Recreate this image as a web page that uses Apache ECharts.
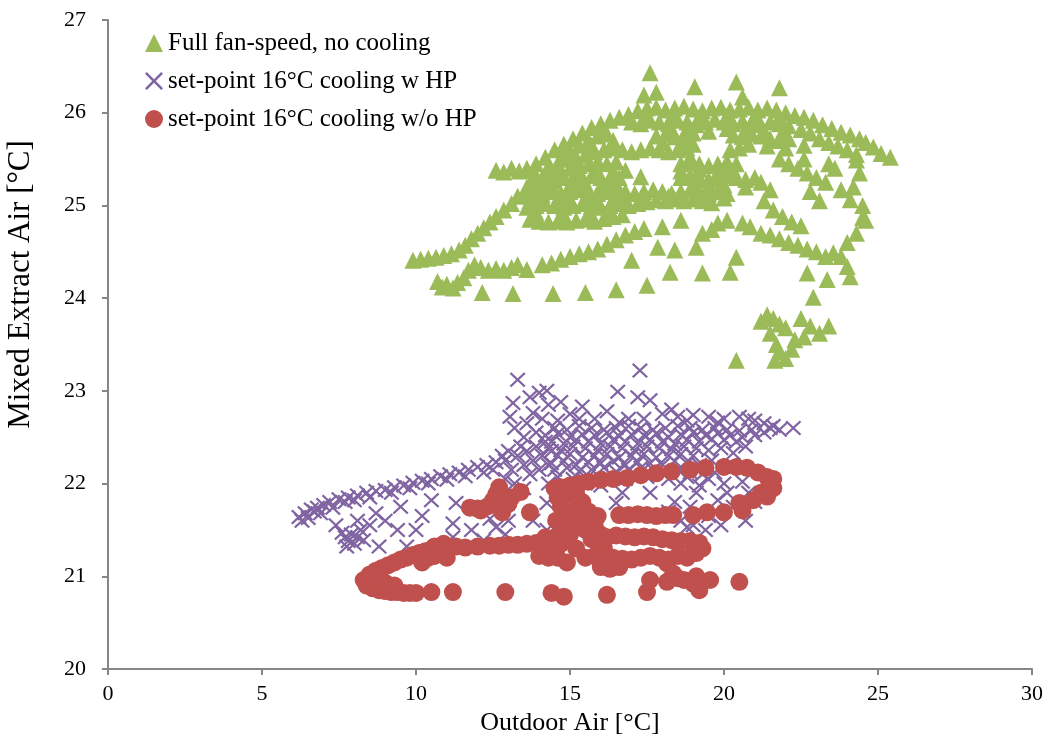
<!DOCTYPE html>
<html>
<head>
<meta charset="utf-8">
<script src="https://cdn.jsdelivr.net/npm/echarts@6/dist/echarts.min.js"></script>
<style>
  html, body { margin: 0; padding: 0; background: #fff; }
  #chart { width: 1050px; height: 734px; }
</style>
</head>
<body>
<div id="chart"></div>
<script>
// series names
const seriesNames = [
  'Full fan-speed, no cooling',
  'set-point 16°C cooling w HP',
  'set-point 16°C cooling w/o HP'
]

// [outdoor air, mixed extract air]
const fullFan = [
  [9.9,24.41],[10.15,24.42],[10.4,24.43],[10.65,24.44],[10.9,24.46],[11.15,24.48],[11.4,24.52],[11.6,24.57],
  [11.8,24.64],[12.0,24.7],[12.2,24.76],[12.4,24.82],[12.6,24.88],[12.85,24.95],[13.1,25.02],[13.3,25.1],
  [10.7,24.18],[10.85,24.12],[11.0,24.15],[11.2,24.11],[11.35,24.17],[11.55,24.22],[11.7,24.3],[11.9,24.36],
  [12.1,24.33],[12.35,24.3],[12.6,24.32],[12.85,24.3],[13.1,24.33],[13.3,24.36],[13.6,24.31],[14.1,24.36],
  [14.4,24.38],[14.7,24.42],[15.0,24.45],[15.3,24.48],[15.6,24.5],[15.9,24.53],[16.2,24.58],[16.5,24.63],
  [16.8,24.68],[17.1,24.72],[17.4,24.75],
  [12.15,24.06],[13.15,24.05],[14.45,24.05],[15.5,24.06],[16.5,24.09],[17.5,24.14],[18.25,24.28],[19.3,24.27],
  [17.0,24.41],[17.85,24.55],[18.4,24.52],[19.1,24.55],[20.4,24.44],[20.2,24.28],
  [18.0,24.77],[18.6,24.84],[19.8,24.81],[20.1,24.84],[20.6,24.81],[20.85,24.77],[19.3,24.7],[19.6,24.74],
  [12.6,25.38],[12.85,25.36],[13.1,25.4],[13.35,25.37],[13.6,25.4],[13.9,25.45],[14.2,25.52],[14.5,25.6],
  [14.8,25.66],[15.1,25.72],[15.4,25.78],[15.7,25.84],[16.0,25.88],[16.3,25.92],[16.6,25.95],[16.9,25.98],
  [17.6,26.43],[17.8,26.22],[17.4,26.19],[19.05,26.28],[20.4,26.33],[20.6,26.17],[21.8,26.27],
  [17.2,26.02],[17.5,26.05],[17.8,26.06],[18.1,26.03],[18.4,26.05],[18.7,26.07],[19.0,26.04],[19.3,26.02],
  [19.6,26.05],[19.9,26.06],[20.2,26.03],[20.5,26.04],[20.8,26.06],[21.1,26.03],[21.4,26.05],[21.7,26.03],
  [22.0,26.0],[22.3,25.97],
  [17.5,25.95],[18.3,25.96],[19.2,25.96],[20.1,25.97],[21.0,25.96],[21.8,25.95],
  [22.6,25.95],[22.9,25.92],[23.2,25.87],[23.5,25.83],[23.8,25.79],[24.1,25.76],[24.4,25.72],[24.6,25.68],
  [24.85,25.63],[25.1,25.56],[25.4,25.52],
  [22.5,25.82],[22.8,25.78],[23.1,25.72],[23.4,25.68],[23.7,25.64],[24.0,25.6],[24.3,25.55],
  [24.3,25.49],[24.2,25.2],[23.8,25.17],[24.1,25.06],[24.5,24.87],[24.6,24.84],[24.3,24.7],[24.0,24.6],
  [24.4,25.35],[24.5,25.0],[23.8,24.45],[24.1,24.23],[23.55,24.49],[23.35,24.2],[22.7,24.27],[22.9,24.01],[24.0,24.34],
  [21.2,24.7],[21.5,24.68],[21.8,24.64],[22.1,24.6],[22.4,24.57],[22.7,24.53],[23.0,24.5],[23.3,24.45],
  [21.2,23.75],[21.4,23.82],[21.6,23.78],[21.8,23.72],[22.0,23.68],[21.5,23.62],[22.5,23.78],[22.8,23.7],
  [23.1,23.62],[23.4,23.7],[22.6,23.58],[21.7,23.5],[21.8,23.42],[22.0,23.35],[22.2,23.45],[21.65,23.33],
  [22.3,23.55],[20.4,23.33],
  [21.8,25.5],[22.1,25.45],[22.4,25.4],[22.7,25.35],[23.0,25.3],[23.3,25.25],[21.5,25.17],[21.3,25.05],
  [21.6,24.95],[21.9,24.88],[22.2,24.82],[22.5,24.78],[21.2,25.25],[22.8,25.15],[23.1,25.05],[22.6,25.5],
  [23.4,25.45],[23.6,25.4],
  [17.0,25.9],[17.3,25.88],[17.6,25.92],[17.9,25.9],[18.2,25.88],[18.5,25.92],[18.8,25.9],[19.1,25.87],
  [19.4,25.9],[19.7,25.93],[20.0,25.9],[20.3,25.88],[20.6,25.91],[20.9,25.9],[21.2,25.87],[21.5,25.9],
  [21.8,25.88],[22.1,25.86],
  [16.0,25.82],[18.3,25.82],[18.9,25.84],[19.5,25.8],[20.1,25.83],[20.7,25.82],[21.3,25.8],[21.9,25.79],
  [15.0,25.6],[15.3,25.65],[15.6,25.7],[15.9,25.75],[16.2,25.77],[17.8,25.75],[18.1,25.77],[18.4,25.74],
  [18.7,25.76],[19.0,25.78],[20.3,25.76],[20.6,25.74],[20.9,25.77],[21.2,25.75],[21.5,25.72],[21.8,25.7],[22.1,25.72],
  [14.8,25.55],[18.0,25.68],[18.6,25.67],[19.0,25.66],[20.8,25.66],[21.4,25.64],[22.0,25.62],[22.6,25.65],
  [15.7,25.65],[16.4,25.7],[15.0,25.5],[18.9,25.52],
  [14.6,25.45],[14.9,25.5],[15.2,25.52],[15.5,25.55],[15.8,25.58],[16.1,25.6],[16.4,25.62],[16.7,25.6],
  [17.0,25.58],[17.3,25.6],[17.6,25.62],[17.9,25.6],[18.2,25.58],[18.5,25.6],[18.8,25.62],[20.2,25.6],[20.5,25.62],
  [14.1,25.3],[14.4,25.35],[14.7,25.38],[15.0,25.4],[15.3,25.43],[15.6,25.45],[15.9,25.47],[16.2,25.45],
  [16.5,25.47],[18.6,25.45],[18.9,25.47],[19.2,25.45],[19.5,25.43],[19.8,25.45],[20.1,25.47],[20.4,25.45],
  [13.8,25.3],[16.8,25.38],[18.6,25.37],[19.2,25.39],[19.8,25.36],[20.3,25.38],[20.0,25.4],
  [13.8,25.38],[14.3,25.42],[15.2,25.36],[15.8,25.38],[16.4,25.37],
  [13.6,25.2],[13.9,25.22],[14.2,25.25],[14.5,25.27],[14.8,25.3],[15.1,25.28],[15.4,25.3],[15.7,25.32],
  [16.0,25.3],[16.3,25.28],[16.6,25.3],[18.6,25.3],[18.9,25.32],[19.2,25.3],[19.5,25.28],[19.8,25.3],
  [20.1,25.32],[20.4,25.3],[20.7,25.28],[21.0,25.3],[17.3,25.31],
  [14.0,25.18],[15.0,25.22],[16.0,25.21],[19.0,25.23],[20.0,25.22],[20.7,25.2],
  [14.4,25.22],[15.5,25.24],[16.5,25.23],[19.5,25.22],
  [13.5,25.12],[13.8,25.1],[14.1,25.12],[14.4,25.15],[14.7,25.13],[15.0,25.15],[15.3,25.17],[15.6,25.15],
  [15.9,25.13],[16.2,25.15],[16.5,25.17],[16.8,25.15],[17.1,25.13],[17.4,25.15],[17.7,25.17],[18.0,25.15],
  [18.3,25.13],[18.6,25.15],[18.9,25.17],[19.2,25.15],[19.5,25.13],[19.8,25.15],[20.1,25.13],
  [13.7,25.05],[14.6,25.07],[15.5,25.08],[16.4,25.07],[17.3,25.08],[18.2,25.1],[19.1,25.1],[20.0,25.08],
  [14.1,25.05],[15.0,25.06],[15.9,25.05],[16.8,25.07],
  [13.6,24.98],[13.9,25.0],[14.2,25.02],[14.5,25.0],[14.8,24.98],[15.1,25.0],[15.4,25.02],[15.7,25.0],
  [16.0,24.98],[16.3,25.0],[16.6,25.02],[16.9,25.0],[17.2,25.02],[17.5,25.04],[17.8,25.06],[18.1,25.05],
  [18.4,25.07],[18.7,25.05],[19.0,25.07],[19.3,25.05],[19.6,25.03],
  [13.9,24.92],[14.8,24.9],[15.6,24.92],[16.3,24.94],
  [13.7,24.85],[14.0,24.83],[14.3,24.82],[14.6,24.83],[14.9,24.82],[15.2,24.84],[15.5,24.85],[15.8,24.83],
  [16.1,24.86],[16.4,24.88],[16.7,24.9]
]

const coolingWithHP = [
  [6.2,21.64],[6.4,21.68],[6.6,21.72],[6.8,21.74],[7.0,21.77],[7.2,21.8],[7.5,21.83],[7.8,21.85],
  [8.1,21.87],[8.4,21.9],[8.7,21.92],[9.0,21.93],[9.3,21.96],[9.6,21.98],[9.9,22.01],[10.2,22.03],
  [10.5,22.05],[10.8,22.08],[11.1,22.1],[11.4,22.12],[11.7,22.15],[12.0,22.18],[12.3,22.2],[12.6,22.23],[12.9,22.25],
  [6.3,21.6],[6.5,21.63],[6.7,21.7],[6.9,21.68],[7.3,21.74],[7.7,21.8],[8.0,21.82],[8.5,21.85],
  [9.2,21.9],[9.8,21.95],[10.4,22.0],[11.0,22.04],[11.6,22.08],[12.2,22.12],[12.5,22.15],
  [7.6,21.47],[7.7,21.42],[7.8,21.38],[7.9,21.45],[8.0,21.35],[8.1,21.42],[7.75,21.32],[8.2,21.5],
  [8.3,21.39],[8.7,21.68],[8.8,21.32],[9.4,21.5],[9.7,21.32],[10.0,21.5],[10.5,21.82],[11.2,21.57],
  [11.2,21.42],[12.2,21.39],[12.6,21.53],[12.7,21.75],[11.3,21.79],[8.5,21.55],[9.0,21.6],[9.5,21.75],
  [10.2,21.65],[11.8,21.5],[12.4,21.62],[13.0,21.6],[12.9,21.45],[7.4,21.55],[8.1,21.6],
  [13.3,23.12],[13.7,22.93],[13.15,22.87],[13.05,22.72],[13.8,22.76],[14.0,22.98],[13.5,22.5],[13.2,22.6],
  [13.4,22.4],[13.6,22.65],[13.9,22.55],[14.1,22.7],[14.3,22.85],[13.0,22.35],[13.3,22.3],[13.6,22.35],
  [13.9,22.4],[14.2,22.45],[12.8,22.3],[13.1,22.15],[13.5,22.2],[13.8,22.25],[14.1,22.3],[14.4,22.35],
  [13.7,22.1],[14.0,22.15],[14.3,22.2],[13.2,22.0],[12.9,22.05],[13.5,21.95],
  [14.25,23.0],[15.4,22.83],[16.55,22.99],[17.27,23.22],[17.2,22.93],[17.6,22.9],[15.0,22.75],[15.8,22.7],
  [16.2,22.78],[16.9,22.7],[18.0,22.75],[18.5,22.72],[19.0,22.74],[19.5,22.72],[20.0,22.7],[20.5,22.72],
  [21.0,22.68],[21.3,22.65],[21.6,22.62],[22.25,22.6],[18.3,22.8],[14.7,22.88],
  [14.6,22.68],[15.3,22.7],[16.6,22.66],[17.4,22.7],[18.8,22.68],[19.8,22.66],[20.8,22.7],
  [14.5,22.6],[14.9,22.58],[15.3,22.62],[15.7,22.6],[16.1,22.58],[16.5,22.6],[16.9,22.62],[17.3,22.6],
  [17.7,22.58],[18.1,22.6],[18.5,22.62],[18.9,22.6],[19.3,22.58],[19.7,22.6],[20.1,22.58],[20.5,22.57],
  [20.9,22.58],[21.3,22.55],
  [14.2,22.52],[14.6,22.54],[15.0,22.5],[15.4,22.53],[15.8,22.52],[16.2,22.55],[16.6,22.51],[17.0,22.53],
  [17.4,22.52],[17.8,22.54],[18.2,22.5],[18.6,22.53],[19.0,22.55],[19.4,22.52],[19.8,22.54],[20.2,22.52],
  [20.6,22.5],[21.0,22.52],[21.5,22.6],[21.8,22.58],
  [14.4,22.45],[14.8,22.43],[15.2,22.47],[15.6,22.45],[16.0,22.43],[16.4,22.47],[16.8,22.45],[17.2,22.43],
  [17.6,22.47],[18.0,22.45],[18.4,22.43],[18.8,22.47],[19.2,22.45],[19.6,22.48],[20.0,22.47],[20.4,22.45],
  [14.3,22.38],[14.7,22.36],[15.1,22.4],[15.5,22.38],[15.9,22.36],[16.3,22.4],[16.7,22.38],[17.1,22.36],
  [17.5,22.4],[17.9,22.38],[18.3,22.37],[18.7,22.4],[19.1,22.38],[19.5,22.36],[19.9,22.38],[20.3,22.33],[20.7,22.4],
  [14.6,22.3],[15.0,22.32],[15.4,22.28],[15.8,22.3],[16.2,22.32],[16.6,22.28],[17.0,22.3],[17.4,22.32],
  [17.8,22.28],[18.2,22.3],[18.6,22.32],[19.0,22.3],
  [14.4,22.22],[14.8,22.24],[15.2,22.2],[15.6,22.23],[16.0,22.22],[16.4,22.24],[16.8,22.2],[17.2,22.23],
  [17.6,22.22],[18.0,22.2],[18.4,22.24],[18.8,22.22],[19.2,22.2],[19.6,22.25],[20.2,22.2],
  [14.5,22.15],[14.9,22.17],[15.3,22.13],[15.7,22.15],[16.1,22.17],[16.5,22.13],[16.9,22.15],[17.3,22.17],
  [17.7,22.15],[18.1,22.12],[18.5,22.15],[18.9,22.12],[19.3,22.1],[19.7,22.12],
  [14.6,22.07],[15.1,22.05],[15.6,22.08],[16.3,22.06],[16.8,22.05],[17.5,22.07],[18.2,22.05],[18.8,22.07],[19.5,22.05],
  [14.3,22.0],[14.8,21.98],[15.5,22.0],[16.0,21.98],[18.6,22.0],[19.2,21.98],[20.0,22.0],[20.6,22.02],
  [19.1,21.9],[19.8,21.82],[20.1,21.9],[18.8,21.53],[14.25,21.79],[14.7,21.47],[16.5,21.79],[16.7,21.9],
  [17.6,21.9],[18.2,21.7],[18.6,21.6],[19.0,21.55],[19.4,21.5],[18.4,21.8],[19.5,21.65],[20.3,21.75],
  [13.8,21.6],[14.25,21.5],[20.8,21.9],[21.0,21.8],[20.7,21.6],[19.9,21.55],[18.9,21.75]
]

const coolingNoHP = [
  [8.3,20.96],[8.5,21.02],[8.7,21.06],[8.9,21.09],[9.1,21.12],[9.3,21.15],[9.5,21.18],[9.7,21.2],
  [9.9,21.23],[10.1,21.25],[10.3,21.27],[10.5,21.29],[10.7,21.3],[10.4,21.2],[10.2,21.15],[10.6,21.22],
  [8.4,20.9],[8.6,20.87],[8.8,20.85],[9.0,20.84],[9.2,20.83],[9.4,20.83],[9.6,20.82],[9.8,20.82],
  [10.0,20.82],[8.5,20.97],[8.7,20.95],[9.0,20.93],[9.3,20.9],
  [10.5,20.83],[11.2,20.83],[12.9,20.83],[14.4,20.82],[14.8,20.78],[16.2,20.8],[17.5,20.83],
  [11.0,21.3],[11.3,21.32],[11.6,21.31],[12.0,21.32],[12.4,21.33],[12.7,21.33],[13.0,21.34],[13.3,21.34],
  [13.6,21.35],[13.9,21.36],[14.2,21.36],[14.5,21.37],[10.8,21.25],[11.0,21.2],[10.9,21.35],[10.6,21.32],
  [12.7,21.96],[13.4,21.91],[13.7,21.69],[11.75,21.74],[12.1,21.71],[12.8,21.69],[12.5,21.82],[12.3,21.75],
  [13.0,21.78],[12.0,21.73],[12.6,21.88],[13.1,21.85],
  [14.7,21.96],[15.0,21.98],[15.3,22.0],[15.6,22.02],[16.0,22.04],[16.4,22.05],[16.85,22.06],[17.3,22.09],
  [17.8,22.11],[18.3,22.13],[18.9,22.15],[19.4,22.17],[20.0,22.18],[20.4,22.18],[20.75,22.17],[21.1,22.12],
  [21.4,22.07],[21.6,21.95],[21.5,21.98],[21.4,21.86],[20.95,21.82],[20.5,21.79],[20.6,21.71],[21.2,21.9],[21.6,22.05],
  [20.0,21.69],[19.45,21.69],[19.0,21.66],
  [16.6,21.66],[16.9,21.66],[17.2,21.67],[17.5,21.66],[17.8,21.65],[18.1,21.66],[18.35,21.66],
  [14.5,21.95],[14.6,21.85],[14.7,21.75],[14.8,21.65],[14.9,21.55],[15.0,21.45],[15.2,21.9],[15.1,21.7],
  [15.3,21.6],[15.4,21.8],[15.5,21.5],[15.6,21.7],[15.7,21.4],[15.8,21.55],[15.9,21.65],[16.0,21.45],
  [16.1,21.3],[15.2,21.3],[14.6,21.2],[14.9,21.15],[15.5,21.2],[15.0,21.88],[14.55,21.6],[14.7,21.35],
  [14.2,21.42],[14.6,21.44],[16.2,21.42],[16.5,21.44],[16.8,21.43],[17.1,21.42],[17.4,21.43],[17.7,21.42],
  [18.0,21.4],[18.3,21.39],[18.6,21.38],[18.9,21.38],[19.2,21.36],
  [14.0,21.22],[14.3,21.2],[15.8,21.22],[16.1,21.2],[16.4,21.2],[16.7,21.19],[17.0,21.18],[17.3,21.2],
  [17.6,21.22],[17.9,21.2],[18.2,21.18],[18.5,21.22],[18.8,21.2],[19.1,21.25],[19.3,21.3],[16.0,21.1],
  [16.3,21.08],[16.6,21.1],
  [18.15,21.14],[18.35,21.03],[17.6,20.96],[18.15,20.94],[18.7,20.96],[19.1,21.0],[19.55,20.96],[19.2,20.85],
  [20.5,20.94],[19.0,20.92],[18.5,20.98]
]

const xTicks = { min: 0, max: 30, interval: 5 }
const yTicks = { min: 20, max: 27, interval: 1 }

const serif = '"Liberation Serif", "Times New Roman", serif'
const axisGrey = '#868686'
const crossPath = 'path://M0,1L1,0L5,4L9,0L10,1L6,5L10,9L9,10L5,6L1,10L0,9L4,5Z'

const chart = echarts.init(document.getElementById('chart'), null, { renderer: 'canvas' })

const axisCommon = {
  axisLine: { show: true, onZero: false, lineStyle: { color: axisGrey, width: 2 } },
  axisTick: { show: true, inside: false, length: 6, lineStyle: { color: axisGrey, width: 2 } },
  splitLine: { show: false },
  axisLabel: { color: '#000', fontFamily: serif, fontSize: 22 },
  nameTextStyle: { color: '#000', fontFamily: serif, fontSize: 26 }
}

const option = {
  animation: false,
  backgroundColor: '#fff',
  grid: { left: 108, right: 18, top: 20, bottom: 65, containLabel: false, outerBoundsMode: 'none' },
  legend: {
    orient: 'vertical',
    left: 140,
    top: 25,
    itemWidth: 18,
    itemHeight: 18,
    itemGap: 12,
    textStyle: { color: '#000', fontFamily: serif, fontSize: 25, lineHeight: 26 },
    data: seriesNames
  },
  xAxis: Object.assign({}, axisCommon, {
    type: 'value',
    min: xTicks.min, max: xTicks.max, interval: xTicks.interval,
    name: 'Outdoor Air [°C]',
    nameLocation: 'middle',
    nameGap: 38,
    axisLabel: Object.assign({}, axisCommon.axisLabel, { margin: 14 })
  }),
  yAxis: Object.assign({}, axisCommon, {
    type: 'value',
    min: yTicks.min, max: yTicks.max, interval: yTicks.interval,
    name: 'Mixed Extract Air [°C]',
    nameLocation: 'middle',
    nameGap: 72,
    nameTextStyle: Object.assign({}, axisCommon.nameTextStyle, { fontSize: 31, padding: [0, 0, 0, 120] }),
    axisLabel: Object.assign({}, axisCommon.axisLabel, { margin: 22 })
  }),
  series: [
    {
      name: seriesNames[0], type: 'scatter', data: fullFan,
      symbol: 'triangle', symbolSize: [17, 17],
      itemStyle: { color: '#9BBB59', opacity: 1 }
    },
    {
      name: seriesNames[1], type: 'scatter', data: coolingWithHP,
      symbol: crossPath, symbolSize: [16, 15],
      itemStyle: { color: '#8064A2', opacity: 1 }
    },
    {
      name: seriesNames[2], type: 'scatter', data: coolingNoHP,
      symbol: 'circle', symbolSize: 18,
      itemStyle: { color: '#C0504D', opacity: 1 }
    }
  ]
}

chart.setOption(option)
</script>
</body>
</html>
